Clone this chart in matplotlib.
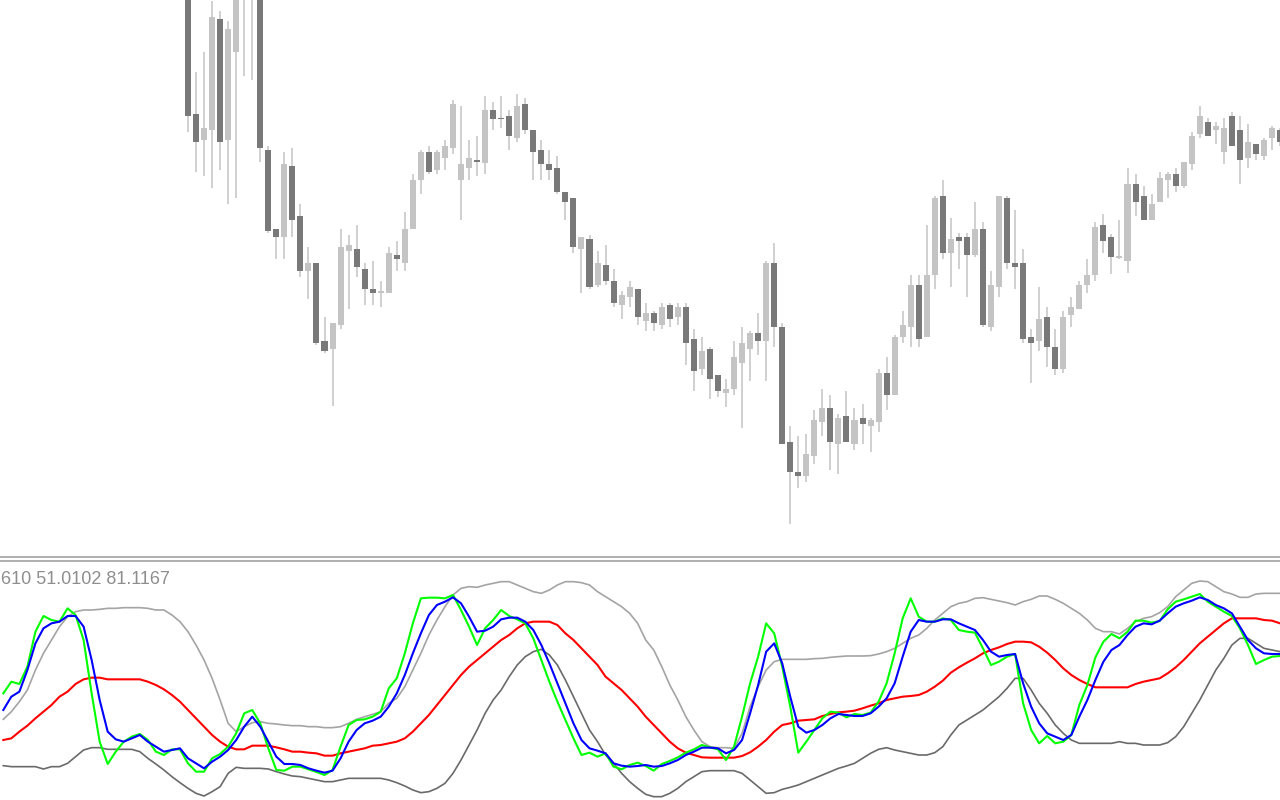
import numpy as np
import matplotlib
matplotlib.use("Agg")
import matplotlib.pyplot as plt
from matplotlib.lines import Line2D

# candles, one per bar (price in chart points)
opens = [620, 486, 460, 470, 581, 460, 548, 615, 645, 605,
         450, 371, 363, 434, 384, 329, 337, 259, 251, 275,
         349, 351, 331, 311, 307, 307, 345, 337, 371, 420,
         448, 430, 442, 452, 420, 432, 440, 437, 490, 482,
         484, 462, 496, 470, 450, 436, 432, 408, 402, 351,
         361, 315, 335, 319, 295, 303, 311, 279, 287, 275,
         295, 283, 293, 261, 231, 251, 225, 207, 211, 237,
         251, 267, 259, 337, 273, 158, 128, 124, 144, 178,
         192, 156, 184, 156, 182, 174, 178, 227, 205, 263,
         273, 315, 263, 325, 404, 347, 363, 363, 345, 371,
         273, 313, 402, 337, 337, 263, 259, 283, 253, 231,
         285, 291, 315, 325, 375, 363, 342, 339, 416, 404,
         380, 398, 420, 426, 414, 436, 466, 478, 470, 448,
         484, 470, 442, 456, 444, 462, 470]
highs = [640, 528, 548, 599, 589, 579, 625, 660, 655, 610,
         454, 371, 448, 452, 396, 353, 337, 283, 277, 371,
         365, 375, 337, 339, 319, 353, 359, 388, 426, 450,
         454, 450, 460, 500, 494, 460, 464, 504, 498, 504,
         490, 506, 502, 470, 460, 450, 444, 408, 402, 363,
         365, 349, 355, 331, 309, 319, 311, 297, 289, 297,
         297, 297, 297, 271, 263, 253, 225, 221, 259, 273,
         269, 287, 339, 357, 277, 174, 164, 166, 190, 211,
         205, 186, 209, 192, 196, 182, 231, 243, 265, 289,
         325, 325, 375, 404, 420, 382, 367, 367, 398, 378,
         329, 404, 404, 390, 351, 271, 313, 293, 271, 289,
         303, 319, 341, 378, 386, 366, 380, 432, 426, 414,
         406, 428, 428, 432, 438, 468, 494, 482, 478, 482,
         488, 484, 476, 456, 462, 474, 472]
lows = [468, 428, 424, 412, 430, 396, 402, 524, 520, 438,
        367, 341, 341, 363, 323, 301, 255, 247, 194, 271,
        291, 323, 295, 295, 293, 307, 329, 329, 371, 406,
        426, 426, 430, 446, 380, 420, 424, 426, 470, 472,
        450, 458, 466, 420, 420, 420, 406, 380, 347, 307,
        311, 313, 315, 293, 281, 293, 275, 269, 269, 271,
        273, 275, 235, 209, 225, 201, 203, 193, 205, 172,
        219, 245, 219, 253, 156, 76, 112, 118, 136, 164,
        130, 126, 158, 150, 156, 148, 168, 190, 205, 257,
        253, 253, 263, 311, 341, 313, 331, 303, 343, 273,
        269, 303, 331, 311, 257, 217, 249, 233, 225, 227,
        273, 291, 307, 319, 347, 326, 341, 327, 384, 380,
        380, 398, 402, 408, 412, 430, 462, 464, 456, 436,
        454, 416, 432, 440, 440, 450, 454]
closes = [484, 458, 472, 583, 458, 571, 608, 650, 605, 452,
          369, 363, 436, 380, 329, 337, 257, 249, 277, 353,
          355, 333, 311, 307, 309, 347, 341, 371, 420, 448,
          428, 448, 454, 496, 436, 442, 438, 490, 481, 481,
          464, 494, 470, 448, 436, 430, 408, 398, 353, 363,
          313, 337, 319, 297, 305, 313, 283, 287, 277, 293,
          281, 293, 257, 229, 249, 221, 209, 211, 243, 257,
          267, 259, 337, 273, 156, 128, 124, 146, 180, 192,
          158, 182, 158, 180, 176, 180, 227, 205, 263, 275,
          315, 261, 325, 402, 347, 361, 359, 345, 371, 275,
          315, 404, 337, 333, 261, 257, 281, 253, 231, 283,
          293, 315, 325, 373, 359, 343, 344, 416, 398, 380,
          396, 422, 426, 414, 438, 464, 484, 464, 474, 472,
          454, 440, 458, 446, 460, 472, 458]

# indicator buffers, bars -23 .. 136 (sub window units)
ind_green = [320, 355, 348, 400, 505, 552, 540, 535, 575, 555, 480, 320, 175, 108, 145, 175, 190, 198, 180, 145,
             135, 152, 152, 110, 85, 85, 125, 138, 160, 200, 260, 270, 230, 155, 90, 88, 100, 100, 92, 84,
             75, 90, 160, 225, 240, 242, 250, 265, 335, 365, 440, 530, 605, 607, 607, 605, 615, 570, 520, 465,
             515, 540, 570, 552, 542, 530, 485, 420, 355, 295, 240, 185, 135, 142, 130, 140, 100, 92, 105, 112,
             102, 88, 108, 117, 128, 142, 152, 165, 158, 152, 120, 160, 250, 350, 430, 530, 500, 400, 280, 142,
             175, 210, 245, 265, 262, 248, 258, 255, 262, 295, 350, 440, 545, 605, 550, 535, 535, 545, 540, 510,
             505, 502, 455, 405, 415, 430, 438, 290, 210, 170, 192, 170, 175, 195, 285, 345, 428, 475, 498, 485,
             505, 538, 538, 532, 537, 572, 595, 602, 610, 618, 595, 580, 565, 552, 515, 465, 408, 420, 430, 432]
ind_blue = [270, 310, 325, 390, 470, 515, 530, 535, 552, 552, 520, 420, 300, 205, 182, 175, 185, 195, 175, 160,
            145, 150, 155, 125, 110, 95, 115, 130, 150, 180, 220, 250, 220, 175, 130, 108, 108, 105, 95, 88,
            82, 88, 125, 175, 210, 230, 238, 250, 280, 320, 375, 440, 500, 555, 585, 595, 608, 590, 550, 505,
            508, 520, 542, 547, 547, 535, 510, 465, 410, 350, 290, 230, 180, 155, 148, 140, 110, 103, 100, 102,
            105, 100, 102, 110, 120, 135, 145, 157, 157, 155, 140, 150, 180, 260, 345, 445, 470, 410, 310, 220,
            202, 210, 225, 245, 258, 255, 252, 252, 260, 280, 305, 350, 430, 505, 540, 535, 535, 542, 542, 530,
            520, 510, 480, 445, 430, 435, 438, 350, 280, 230, 200, 190, 180, 195, 250, 300, 360, 415, 450, 465,
            495, 520, 530, 527, 538, 560, 580, 590, 598, 608, 600, 585, 575, 560, 520, 480, 455, 440, 438, 438]
ind_red = [180, 185, 205, 223, 245, 265, 285, 310, 325, 348, 362, 367, 367, 362, 362, 362, 362, 362, 355, 345,
           332, 315, 295, 270, 245, 220, 195, 175, 160, 152, 152, 163, 163, 163, 158, 152, 145, 145, 142, 140,
           133, 133, 140, 145, 150, 155, 163, 165, 170, 175, 185, 205, 230, 255, 285, 315, 345, 375, 400, 420,
           440, 460, 480, 495, 515, 530, 535, 535, 535, 525, 500, 480, 455, 430, 405, 370, 350, 330, 305, 280,
           250, 225, 200, 175, 155, 142, 135, 128, 127, 127, 127, 127, 132, 143, 160, 180, 205, 225, 230, 238,
           240, 242, 252, 258, 263, 265, 268, 275, 283, 290, 300, 305, 310, 312, 315, 325, 340, 358, 382, 398,
           412, 425, 440, 450, 458, 468, 475, 475, 473, 460, 442, 420, 395, 375, 360, 348, 338, 338, 338, 338,
           338, 348, 355, 360, 365, 380, 398, 420, 445, 470, 490, 510, 530, 545, 545, 545, 545, 540, 538, 530]
ind_upper = [242, 265, 295, 330, 390, 440, 480, 520, 550, 565, 570, 570, 572, 575, 575, 577, 577, 577, 575, 570,
             570, 555, 535, 505, 465, 420, 365, 300, 230, 205, 220, 232, 235, 230, 228, 225, 223, 223, 220, 220,
             217, 217, 220, 230, 242, 250, 257, 265, 290, 305, 340, 390, 440, 495, 540, 580, 615, 635, 640, 638,
             645, 650, 655, 655, 645, 635, 625, 620, 630, 645, 655, 655, 652, 645, 625, 610, 595, 580, 560, 530,
             480, 450, 400, 345, 300, 250, 210, 175, 160, 157, 157, 155, 200, 280, 340, 390, 415, 422, 422, 422,
             422, 424, 425, 428, 430, 432, 432, 432, 433, 438, 445, 455, 470, 485, 495, 515, 540, 560, 580, 590,
             595, 605, 607, 602, 597, 592, 585, 595, 602, 612, 612, 602, 590, 575, 560, 540, 515, 505, 505, 498,
             515, 535, 545, 550, 562, 580, 610, 630, 650, 657, 655, 640, 625, 618, 608, 608, 618, 620, 620, 620]
ind_lower = [103, 100, 100, 100, 100, 93, 100, 100, 110, 130, 150, 157, 157, 152, 152, 152, 152, 145, 125, 108,
             90, 70, 52, 35, 20, 12, 25, 40, 80, 98, 95, 95, 95, 93, 85, 78, 72, 70, 65, 60,
             55, 55, 60, 65, 65, 65, 65, 65, 60, 52, 42, 30, 22, 25, 35, 50, 80, 120, 165, 210,
             260, 300, 330, 370, 405, 430, 445, 452, 435, 405, 360, 310, 260, 210, 175, 135, 110, 80, 55, 35,
             17, 10, 10, 20, 35, 55, 70, 85, 88, 88, 88, 88, 80, 60, 40, 20, 22, 32, 38, 45,
             55, 65, 75, 85, 95, 102, 110, 125, 140, 152, 157, 150, 145, 140, 135, 135, 142, 160, 195, 225,
             240, 255, 270, 290, 310, 335, 365, 365, 330, 290, 260, 225, 200, 180, 170, 170, 170, 170, 170, 175,
             170, 170, 165, 165, 165, 172, 190, 220, 260, 300, 345, 390, 425, 465, 485, 485, 470, 455, 450, 445]
ind_label = "610 51.0102 81.1167"

FIRST_BAR = -23
W, H = 1280, 800
BAR_PX = 8.03      # chart shift: bar 0 sits at x=188px
BAR0_PX = 188
MAIN_BOTTOM = 556  # px from top where price window ends

fig = plt.figure(figsize=(W / 100, H / 100), dpi=100)
fig.patch.set_facecolor("white")

xlim = (-BAR0_PX / BAR_PX, (W - BAR0_PX) / BAR_PX)

# ---- price window
ax = fig.add_axes([0, 1 - MAIN_BOTTOM / H, 1, MAIN_BOTTOM / H])
ax.set_xlim(*xlim)
ax.set_ylim(600 - MAIN_BOTTOM, 600)
ax.axis("off")

o = np.array(opens)
c = np.array(closes)
x = np.arange(len(o))
up = c > o

ax.vlines(x, lows, highs, color="#c8c8c8", lw=1.2, zorder=1)
ax.bar(x[up], (c - o)[up], bottom=o[up], width=0.75, color="#c4c4c4", zorder=2)
ax.bar(x[~up], np.maximum((o - c)[~up], 1.5), bottom=c[~up], width=0.75, color="#797979", zorder=2)

# ---- indicator sub window
ax2 = fig.add_axes([0, 0, 1, (H - 560) / H])
ax2.set_xlim(*xlim)
ax2.set_ylim(0, 720)
ax2.axis("off")

xi = np.arange(FIRST_BAR, FIRST_BAR + len(ind_green))
ax2.plot(xi, ind_upper, color="#a4a4a4", lw=1.2)
ax2.plot(xi, ind_lower, color="#6a6a6a", lw=1.2)
ax2.plot(xi, ind_red, color="#ff0000", lw=1.5)
ax2.plot(xi, ind_green, color="#00ff00", lw=1.5)
ax2.plot(xi, ind_blue, color="#0000ff", lw=1.5)

# window separator
for yy in (556.5, 560.5):
    fig.add_artist(Line2D([0, 1], [1 - yy / H, 1 - yy / H], color="#9a9a9a", lw=1.1))

fig.text(1 / W, 1 - 579 / H, ind_label, color="#8e8e8e", fontsize=13,
         family="Liberation Sans", va="center", ha="left")

fig.savefig("out.png", dpi=100, facecolor="white")
